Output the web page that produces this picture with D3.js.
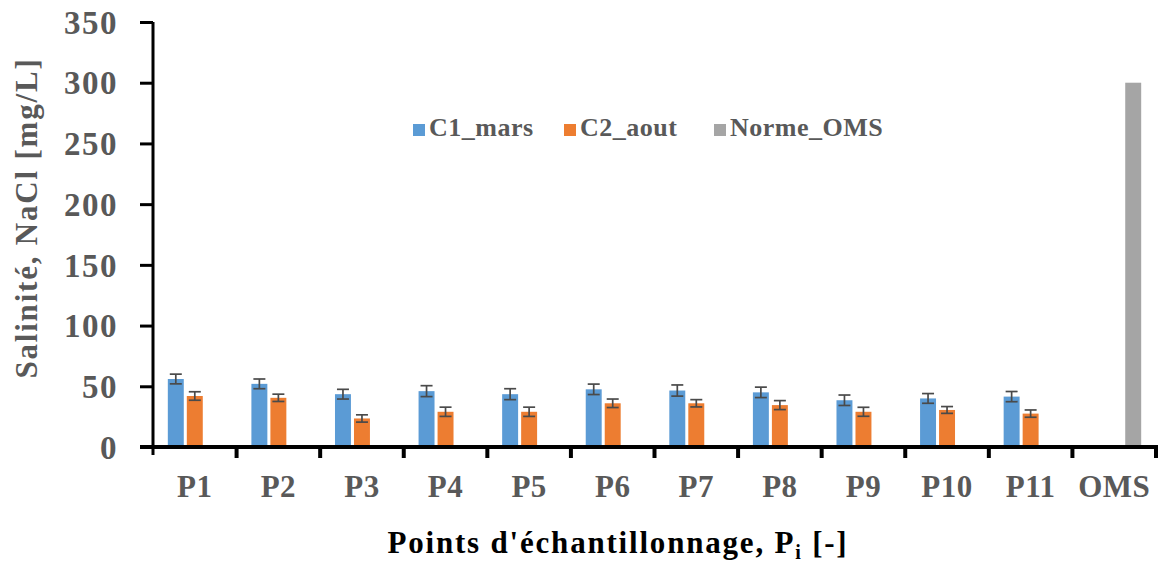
<!DOCTYPE html>
<html>
<head>
<meta charset="utf-8">
<script src="https://cdn.jsdelivr.net/npm/d3@7"></script>
<style>
  html, body { margin: 0; padding: 0; background: #fff; }
  svg { display: block; }
</style>
</head>
<body>
<svg id="chart" width="1158" height="564"></svg>
<script>
// Sampling points
const categories = ["P1", "P2", "P3", "P4", "P5", "P6", "P7", "P8", "P9", "P10", "P11", "OMS"];
const seriesNames = ["C1_mars", "C2_aout", "Norme_OMS"];
// Salinity (NaCl, mg/L) per campaign, with error margins
const c1Mars = [56, 52, 43.5, 46, 43.5, 47.5, 46.5, 45, 38.5, 40, 41.5, null];
const c1Err  = [4, 4, 4, 4.5, 4.5, 4.3, 4.6, 4.3, 4.3, 4, 4.2, null];
const c2Aout = [42, 40.5, 23.5, 29, 29, 36, 36, 34.5, 29, 30.5, 27.5, 0];
const c2Err  = [3.5, 3, 3, 3.8, 3.8, 3.5, 3, 3.7, 3.7, 2.8, 3, 0];
const normeOMS = [null, null, null, null, null, null, null, null, null, null, null, 300];
const yTicks = [0, 50, 100, 150, 200, 250, 300, 350];
const colors = ["#5B9BD5", "#ED7D31", "#A5A5A5"];

const FONT = "Liberation Serif, Times New Roman, serif";
const svg = d3.select("#chart");
const margin = { left: 153, right: 2, top: 22, bottom: 117 };
const W = 1158, H = 564;
const y0 = H - margin.bottom;

const x = d3.scaleBand().domain(categories).range([margin.left, W - margin.right]).padding(0);
const xs = d3.scaleBand().domain(seriesNames).range([0, x.bandwidth()])
  .paddingInner(0.16).paddingOuter(0.78);
const y = d3.scaleLinear().domain([0, 350]).range([y0, margin.top]);

const series = [
  { name: "C1_mars", values: c1Mars, err: c1Err },
  { name: "C2_aout", values: c2Aout, err: c2Err },
  { name: "Norme_OMS", values: normeOMS, err: null }
];

function styleText(sel, size, spacing, fill) {
  return sel.attr("font-family", FONT).attr("font-weight", "bold")
    .attr("font-size", size).attr("letter-spacing", spacing).attr("fill", fill);
}

// Bars with error bars
series.forEach((s, si) => {
  const rows = categories.map((c, i) => ({ c, v: s.values[i], e: s.err ? s.err[i] : null }))
    .filter(d => d.v !== null);
  svg.append("g").selectAll("rect").data(rows.filter(d => d.v > 0)).join("rect")
    .attr("x", d => x(d.c) + xs(s.name))
    .attr("y", d => y(d.v))
    .attr("width", xs.bandwidth())
    .attr("height", d => y(0) - y(d.v))
    .attr("fill", colors[si]);
  if (s.err) {
    const eg = svg.append("g").attr("stroke", "#4a4a4a").attr("stroke-width", 1.7);
    rows.forEach(d => {
      const cx = x(d.c) + xs(s.name) + xs.bandwidth() / 2;
      const t = y(d.v + d.e), b = y(Math.max(0, d.v - d.e));
      eg.append("line").attr("x1", cx).attr("x2", cx).attr("y1", t).attr("y2", b);
      eg.append("line").attr("x1", cx - 6).attr("x2", cx + 6).attr("y1", t).attr("y2", t);
      eg.append("line").attr("x1", cx - 6).attr("x2", cx + 6).attr("y1", b).attr("y2", b);
    });
  }
});

// Y axis
const yAxis = svg.append("g").attr("transform", `translate(${margin.left},0)`)
  .call(d3.axisLeft(y).tickValues(yTicks).tickSize(13).tickPadding(22).tickFormat(d3.format("d")));
yAxis.select(".domain").attr("stroke", "#000").attr("stroke-width", 3)
  .attr("d", `M0,${margin.top}V${y0 + 8}`);
yAxis.selectAll(".tick line").attr("stroke", "#000").attr("stroke-width", 3);
styleText(yAxis.selectAll(".tick text"), 33, 1.5, "#595959").attr("dy", "0.34em");

// X axis
const xAxis = svg.append("g").attr("transform", `translate(0,${y0})`)
  .call(d3.axisBottom(x).tickSize(0).tickPadding(50));
xAxis.select(".domain").attr("stroke", "#000").attr("stroke-width", 4)
  .attr("d", `M${margin.left - 13},0H${W}`);
styleText(xAxis.selectAll(".tick text"), 31, 0.5, "#595959").attr("dy", "0");
// Category boundary ticks
const bounds = categories.map(c => x(c)).concat([x(categories[categories.length - 1]) + x.bandwidth()]);
svg.append("g").selectAll("line").data(bounds.slice(1)).join("line")
  .attr("x1", d => d).attr("x2", d => d).attr("y1", y0).attr("y2", y0 + 11)
  .attr("stroke", "#000").attr("stroke-width", 4);

// Axis titles
styleText(svg.append("text"), 31, 1.8, "#595959")
  .attr("transform", `translate(37,218) rotate(-90)`)
  .attr("text-anchor", "middle")
  .text("Salinité, NaCl [mg/L]");

const xt = styleText(svg.append("text"), 31, 1.8, "#000")
  .attr("x", 618).attr("y", 553).attr("text-anchor", "middle");
xt.append("tspan").text("Points d'échantillonnage, P");
xt.append("tspan").attr("font-size", 20).attr("dy", 6).text("i");
xt.append("tspan").attr("dy", -6).text(" [-]");

// Legend
const legendX = [413, 564, 714];
const lg = svg.append("g");
seriesNames.forEach((n, i) => {
  lg.append("rect").attr("x", legendX[i]).attr("y", 124).attr("width", 12).attr("height", 12).attr("fill", colors[i]);
  styleText(lg.append("text"), 26, 0.5, "#595959")
    .attr("x", legendX[i] + 16).attr("y", 136)
    .text(n);
});
</script>
</body>
</html>
